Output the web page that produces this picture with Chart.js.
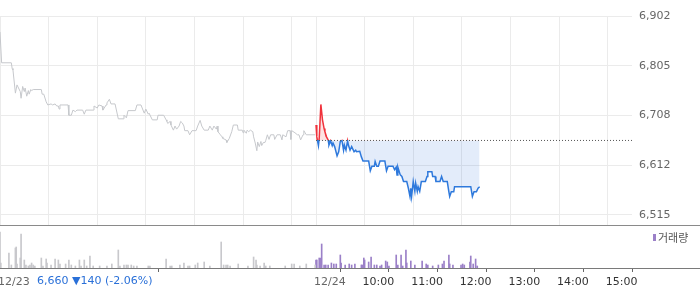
<!DOCTYPE html>
<html>
<head>
<meta charset="utf-8">
<script src="https://cdn.jsdelivr.net/npm/chart.js@4/dist/chart.umd.min.js"></script>
<style>
  body { margin: 0; background: #fff; }
  #wrap { position: relative; width: 700px; height: 289px; }
  #price { position: absolute; left: 0; top: 0; }
  #volume { position: absolute; left: 0; top: 228px; }
</style>
</head>
<body>
<div id="wrap">
  <canvas id="price" width="700" height="228"></canvas>
  <canvas id="volume" width="700" height="61"></canvas>
</div>
<script>
// minutes counted from 12/23 09:00; 12/24 09:00 = 390
const prevMinutes = [0,2,14,15,16,19,21,22,25,26,28,30,31,33,35,36,38,39,41,51,52,54,57,59,63,65,68,70,72,73,74,84,85,88,90,93,95,102,104,106,115,116,120,122,126,127,131,132,135,137,142,146,152,153,156,158,167,169,174,175,178,180,183,184,188,194,195,202,205,206,207,210,211,214,216,218,221,223,225,227,228,232,234,237,242,244,247,249,252,257,259,262,264,267,268,269,272,274,275,279,280,283,286,288,293,294,299,300,301,304,305,307,309,312,313,315,317,318,320,322,323,325,327,328,330,332,334,338,339,342,346,348,349,353,355,358,359,360,364,367,369,371,374,375,378,389];
const prevPrices = [6871,6811,6811,6800,6797,6752,6768,6768,6755,6742,6765,6755,6762,6746,6757,6750,6759,6757,6759,6759,6750,6750,6735,6729,6731,6729,6731,6727,6727,6721,6729,6729,6709,6709,6719,6716,6719,6719,6711,6719,6719,6727,6723,6729,6727,6719,6729,6733,6740,6731,6731,6702,6702,6709,6704,6718,6718,6729,6729,6725,6713,6721,6711,6713,6700,6700,6709,6709,6700,6697,6693,6697,6690,6680,6688,6682,6688,6697,6694,6688,6679,6679,6671,6679,6679,6688,6699,6688,6680,6680,6688,6680,6688,6682,6688,6677,6671,6667,6664,6661,6656,6664,6677,6690,6690,6680,6680,6675,6680,6674,6680,6677,6680,6677,6667,6655,6640,6657,6648,6658,6650,6656,6656,6660,6671,6662,6671,6671,6662,6671,6671,6661,6671,6667,6679,6679,6662,6679,6675,6671,6671,6661,6671,6679,6671,6671];

const todayMinutes = [390,391,393,394,396,398,400,401,403,405,406,408,410,411,413,416,418,420,422,424,425,427,429,430,432,434,437,439,440,444,446,448,455,457,459,462,463,465,467,469,475,477,479,485,487,489,490,491,494,496,498,502,504,506,507,508,510,512,513,515,516,518,520,525,527,528,533,534,537,538,543,545,547,552,554,555,557,560,561,581,583,585,588,590,592];
const todayPrices = [6690,6667,6650,6665,6730,6700,6683,6677,6667,6661,6651,6659,6650,6655,6648,6630,6638,6658,6660,6641,6651,6641,6659,6651,6641,6648,6638,6641,6638,6639,6628,6620,6620,6601,6610,6610,6619,6610,6610,6620,6620,6601,6610,6610,6603,6608,6593,6608,6593,6590,6580,6580,6567,6551,6567,6551,6580,6561,6577,6561,6570,6561,6580,6580,6590,6599,6599,6590,6590,6580,6580,6590,6580,6580,6560,6551,6560,6560,6570,6570,6551,6560,6560,6567,6570];

const prevClose = 6660;
const summaryText = '6,660 \u25BC140 (-2.06%)';

// volume, thousands of shares
const volPrevMinutes = [0,1,11,14,19,20,21,25,26,30,32,35,37,39,41,43,51,53,57,58,63,68,72,74,81,85,88,93,98,100,104,107,111,115,123,132,138,146,148,153,156,158,162,165,169,183,185,205,210,212,222,227,232,234,241,244,252,259,273,276,279,281,284,294,306,313,316,317,321,326,328,333,352,360,363,370,378,389];
const volPrevValues = [36,5,15,3,20,21,4,10,34,8,3,2,3,5,3,2,10,2,9,5,3,9,8,4,4,8,3,2,8,2,8,2,12,2,2,2,4,18,2,3,3,3,3,2,2,2,2,9,2,2,3,5,2,2,3,5,6,2,26,3,3,3,2,4,2,11,8,3,2,5,2,2,2,4,4,2,4,3];
const volTodayMinutes = [390,391,394,396,397,400,402,405,409,412,415,420,421,426,431,434,438,446,447,449,450,455,458,462,465,469,471,476,478,480,489,491,495,497,501,502,507,512,521,526,528,534,541,546,548,554,555,559,569,571,573,580,581,584,587,589];
const volTodayValues = [8,8,10,10,24,3,3,3,5,4,4,13,5,3,4,3,4,3,3,10,8,6,11,3,3,2,3,7,6,2,13,3,13,2,18,5,7,3,7,4,3,2,3,4,7,13,4,3,3,4,3,6,12,4,9,2];

const yTickValues = [6515, 6611.75, 6708.5, 6805.25, 6902];
const yTickLabels = ['6,515', '6,612', '6,708', '6,805', '6,902'];
const gridMinutes = [0,60,120,180,240,300,360,390,450,510,570,630,690,750];
const timeTicks = [0,390,450,510,570,630,690,750];
const timeLabels = ['12/23','12/24','10:00','11:00','12:00','13:00','14:00','15:00'];

Chart.defaults.font.family = 'DejaVu Sans';
Chart.defaults.font.size = 11;
Chart.defaults.animation = false;

const RED = '#f0323c';
const BLUE = '#2e79dc';

function splitColor(context) {
  const chart = context.chart;
  const area = chart.chartArea;
  if (!area) return BLUE;
  const yb = chart.scales.y.getPixelForValue(prevClose);
  const s = Math.min(1, Math.max(0, (yb - area.top) / (area.bottom - area.top)));
  const g = chart.ctx.createLinearGradient(0, area.top, 0, area.bottom);
  g.addColorStop(0, RED);
  g.addColorStop(s, RED);
  g.addColorStop(s, BLUE);
  g.addColorStop(1, BLUE);
  return g;
}

function noPad(s) {
  s.paddingTop = 0;
  s.paddingBottom = 0;
  s.paddingLeft = 0;
  s.paddingRight = 0;
}

const frameLine = {
  id: 'frameLine',
  afterDraw(chart) {
    const c = chart.ctx;
    c.save();
    c.strokeStyle = '#8a8a8a';
    c.lineWidth = 1;
    c.beginPath();
    c.moveTo(0, chart.chartArea.bottom + 0.5);
    c.lineTo(chart.width, chart.chartArea.bottom + 0.5);
    c.stroke();
    c.restore();
  }
};

new Chart(document.getElementById('price'), {
  type: 'line',
  data: {
    datasets: [
      {
        data: prevMinutes.map((m, i) => ({ x: m, y: prevPrices[i] })),
        borderColor: '#c6c8cc',
        borderWidth: 1,
        pointRadius: 0,
        fill: false,
        order: 3
      },
      {
        data: todayMinutes.map((m, i) => ({ x: m, y: todayPrices[i] })),
        borderColor: splitColor,
        borderWidth: 1.5,
        pointRadius: 0,
        fill: { target: { value: prevClose }, above: 'rgba(240,60,60,0.14)', below: 'rgba(60,120,220,0.14)' },
        order: 2
      },
      {
        data: [{ x: 390, y: prevClose }, { x: 780, y: prevClose }],
        borderColor: '#555',
        borderWidth: 1,
        borderDash: [1, 2],
        pointRadius: 0,
        fill: false,
        order: 1
      }
    ]
  },
  options: {
    responsive: false,
    layout: { padding: { top: 16, bottom: 3, left: 0, right: 0 } },
    plugins: { legend: { display: false }, tooltip: { enabled: false } },
    scales: {
      x: {
        type: 'linear',
        min: 0,
        max: 780,
        afterBuildTicks: s => { s.ticks = gridMinutes.map(v => ({ value: v })); },
        afterFit: s => { s.height = 0; noPad(s); },
        grid: { color: '#ebebeb', drawTicks: false },
        border: { display: false },
        ticks: { display: false }
      },
      y: {
        position: 'right',
        min: 6495.55,
        max: 6902,
        afterBuildTicks: s => { s.ticks = yTickValues.map(v => ({ value: v })); },
        afterFit: s => { s.width = 68; noPad(s); },
        grid: { color: '#ebebeb', drawTicks: false },
        border: { display: false },
        ticks: {
          padding: 7,
          color: '#666',
          callback: (v, i) => yTickLabels[i]
        }
      }
    }
  },
  plugins: [frameLine]
});

const volumeExtras = {
  id: 'volumeExtras',
  afterDraw(chart) {
    const c = chart.ctx;
    const a = chart.chartArea;
    c.save();
    c.strokeStyle = '#7a7a7a';
    c.lineWidth = 1;
    c.beginPath();
    c.moveTo(0, a.bottom + 0.5);
    c.lineTo(chart.width, a.bottom + 0.5);
    c.stroke();
    // legend
    c.fillStyle = '#9b80c8';
    c.fillRect(653, 6, 3, 7);
    c.fillStyle = '#555';
    c.font = '11px "Noto Sans CJK KR"';
    c.textBaseline = 'middle';
    c.fillText('거래량', 658, 10);
    // change summary
    c.fillStyle = '#2a70d8';
    c.font = '11px "DejaVu Sans"';
    c.fillText(summaryText, 37, 53.5);
    c.restore();
  }
};

new Chart(document.getElementById('volume'), {
  type: 'bar',
  data: {
    datasets: [
      {
        data: volPrevMinutes.map((m, i) => ({ x: m, y: volPrevValues[i] })),
        backgroundColor: '#c8c8cc',
        barThickness: 1,
        grouped: false
      },
      {
        data: volTodayMinutes.map((m, i) => ({ x: m, y: volTodayValues[i] })),
        backgroundColor: '#9b80c8',
        barThickness: 1,
        grouped: false
      }
    ]
  },
  options: {
    responsive: false,
    layout: { padding: { top: 2, bottom: 0, left: 0, right: 68 } },
    plugins: { legend: { display: false }, tooltip: { enabled: false } },
    scales: {
      x: {
        type: 'linear',
        min: 0,
        max: 780,
        offset: false,
        afterBuildTicks: s => { s.ticks = timeTicks.map(v => ({ value: v })); },
        afterFit: s => { s.height = 21; noPad(s); },
        grid: { drawOnChartArea: false, drawTicks: true, tickLength: 4, color: '#666' },
        border: { display: false },
        ticks: {
          autoSkip: false,
          maxRotation: 0,
          align: 'start',
          padding: 4,
          labelOffset: -2,
          color: ctx => (ctx.tick && timeLabels[ctx.index].includes('/')) ? '#666' : '#333',
          callback: (v, i) => timeLabels[i]
        }
      },
      y: {
        display: false,
        min: 0,
        max: 38
      }
    }
  },
  plugins: [volumeExtras]
});
</script>
</body>
</html>
